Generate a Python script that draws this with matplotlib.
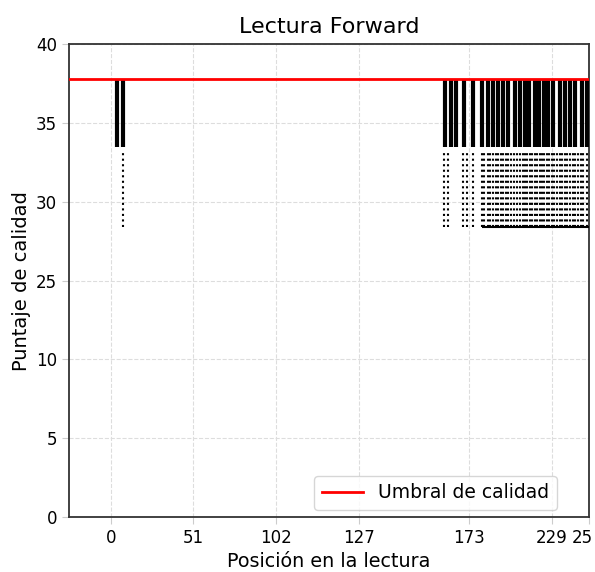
import matplotlib
matplotlib.use('Agg')
import matplotlib.pyplot as plt
import numpy as np

# escala del eje y: posiciones equiespaciadas con etiquetas irregulares
y_labels = [0, 5, 10, 25, 30, 35, 40]
y_pos = np.linspace(0, 40, len(y_labels))

# eje x: posiciones de marca y etiquetas
x_ticks = [0, 51, 102, 153, 221, 272, 295]
x_labels = ['0', '51', '102', '127', '173', '229', '25']

umbral = 37.8
solido_inf = 33.5
punteado_sup = 33.1
punteado_inf = 28.4

# posiciones con barra solida
pos_solido = [4, 7.5,
              206.4, 209.6, 213.1, 218, 223.6, 229.2, 232.5, 235.6, 239.1,
              242, 245.2, 249.6, 252.7, 255.7, 258.2, 261.6, 264.1, 267.2,
              269.6, 273, 277, 280.1, 283.5, 286.6, 290.6, 293.7]

# posiciones con tramo punteado
pos_punteado = [7.5,
                205.5, 208, 217.5, 219.5, 223.5,
                229, 230.5, 232.5, 234, 235.5, 237.5, 239, 240.5, 242, 243.5,
                245, 247, 249, 250.5, 252.5, 254, 255.5, 257, 258.5, 260,
                261.5, 263, 264.5, 266, 267.5, 269, 270.5, 272, 273.5, 275,
                277, 278.5, 280, 281.5, 283.5, 285, 286.5, 288, 290, 291.5,
                293.5]

# linea horizontal al pie del punteado
base_x0, base_x1 = 229, 295


def esc(v):
    return np.interp(v, y_labels, y_pos)


fig = plt.figure(figsize=(5.95, 5.72), dpi=100)
ax = fig.add_axes([0.116, 0.096, 0.874, 0.827])

ax.vlines(pos_solido, esc(solido_inf), esc(umbral), colors='black',
          linewidth=3.0, zorder=3)
ax.vlines(pos_punteado, esc(punteado_inf), esc(punteado_sup), colors='black',
          linewidth=1.5, linestyles=':', zorder=3)
ax.hlines(esc(punteado_inf), base_x0, base_x1, colors='black',
          linewidth=1.5, zorder=3)
ax.axhline(esc(umbral), color='red', linewidth=2.0, zorder=4,
           label='Umbral de calidad')

ax.set_xlim(-25.7, 295)
ax.set_ylim(0, 40)
ax.set_xticks(x_ticks)
# la ultima etiqueta va junto al borde, se dibuja aparte
ax.set_xticklabels(x_labels[:-1] + [''])
ax.annotate(x_labels[-1], xy=(x_ticks[-1], 0),
            xycoords=('data', 'axes fraction'), xytext=(3, -8.5),
            textcoords='offset points', ha='right', va='top', fontsize=12)
ax.set_yticks(y_pos)
ax.set_yticklabels([str(v) for v in y_labels])

ax.grid(True, linestyle='--', color='#dddddd', linewidth=0.8)
ax.tick_params(labelsize=12, color='#cccccc', length=5)
for s in ax.spines.values():
    s.set_color('#333333')
    s.set_linewidth(1.3)

ax.set_xlabel('Posición en la lectura', fontsize=13.8)
ax.set_ylabel('Puntaje de calidad', fontsize=14)
ax.set_title('Lectura Forward', fontsize=16, pad=8)
ax.legend(loc='lower right', bbox_to_anchor=(0.938, 0.015), borderaxespad=0,
          fontsize=13.5, borderpad=0.4, handlelength=2.2)

fig.savefig('out.png', dpi=100)
